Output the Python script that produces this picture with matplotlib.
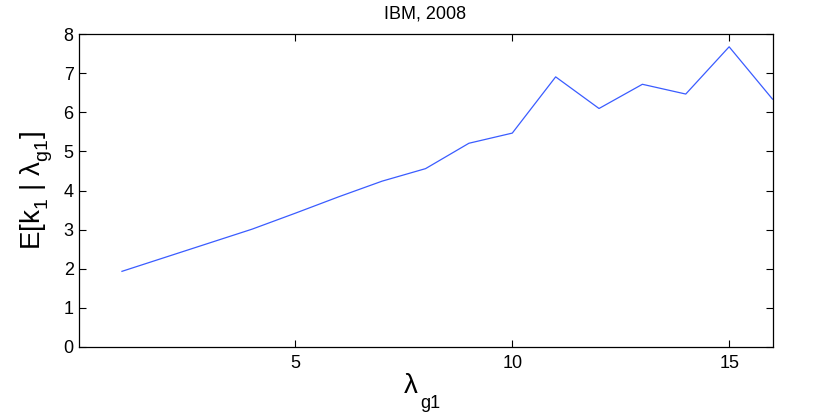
import numpy as np
import matplotlib
matplotlib.use('Agg')
import matplotlib.pyplot as plt

plt.rcParams['font.family'] = ['Liberation Sans', 'DejaVu Sans']
plt.rcParams['mathtext.fontset'] = 'custom'
plt.rcParams['mathtext.rm'] = 'Liberation Sans'
plt.rcParams['mathtext.it'] = 'Liberation Sans'

# MATLAB drops subscripts lower than mathtext does
try:
    import matplotlib._mathtext as _mt
    _mt.FontConstantsBase.sub1 = 0.55
except Exception:
    pass

# lambda_g1 values and conditional expectation of k1
lam = [1, 2, 3, 4, 5, 6, 7, 8, 9, 10, 11, 12, 13, 14, 15, 16]
ek1 = [1.93, 2.29, 2.65, 3.01, 3.42, 3.84, 4.24, 4.56, 5.21, 5.47,
       6.91, 6.10, 6.72, 6.47, 7.68, 6.34]
xticks = [5, 10, 15]
yticks = [0, 1, 2, 3, 4, 5, 6, 7, 8]

W, H = 830, 417
fig = plt.figure(figsize=(W / 100, H / 100), dpi=100)
ax = fig.add_axes([78.6/W, 1 - 346.7/H, (772.5-78.6)/W, (346.7-34.3)/H])

ax.plot(lam, ek1, color='#3a5cff', lw=0.9)

ax.set_xlim(0, 16)
ax.set_ylim(0, 8)
ax.set_xticks(xticks)
ax.set_yticks(yticks)
ax.tick_params(direction='in', top=True, right=True, labelsize=13, length=5, width=0.8)
ax.tick_params(axis='x', pad=6)
ax.tick_params(axis='y', pad=3.5)
for s in ax.spines.values():
    s.set_linewidth(0.9)

ax.set_title('IBM, 2008', fontsize=13, pad=11.5)

# x label: lambda with a low subscript, as MATLAB draws it
fig.text(404/W, 1 - 393/H, '\u03bb', fontsize=20, ha='left', va='baseline')
fig.text(420/W, 1 - 408/H, 'g1', fontsize=13, ha='left', va='baseline')

ax.set_ylabel(r'$\mathregular{E[k_1\ |\ \lambda_{g1}]}$', fontsize=20, labelpad=6)

fig.savefig('out.png', dpi=100)
